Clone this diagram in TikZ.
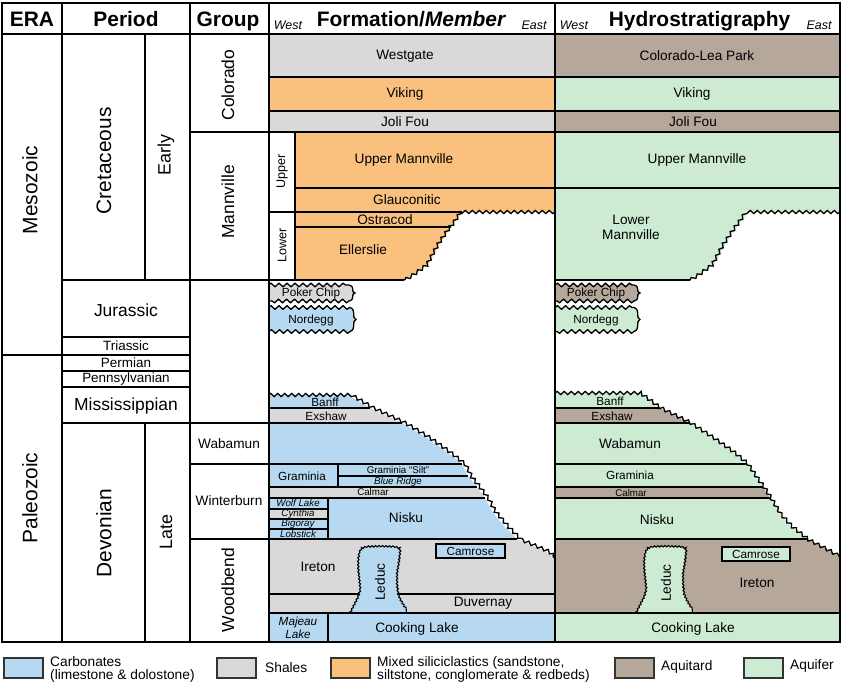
\documentclass[tikz,border=0pt]{standalone}
\usepackage{fontspec}
\setmainfont{Liberation Sans}
\usetikzlibrary{decorations.pathmorphing}
\definecolor{carb}{RGB}{182,217,241}
\definecolor{shale}{RGB}{217,217,217}
\definecolor{silic}{RGB}{250,192,126}
\definecolor{aqt}{RGB}{181,167,153}
\definecolor{aqf}{RGB}{205,235,211}
\newcommand\fs[2]{\fontsize{#1}{#2}\selectfont}
\tikzset{
  lbl/.style={inner sep=0pt, font=\fs{13.7}{15}},
  sml/.style={inner sep=0pt, font=\fs{11.8}{13}},
  updn/.style={inner sep=0pt, font=\fs{12.6}{14}},
  smlit/.style={inner sep=0pt, font=\fs{11.8}{13}\itshape},
  tny/.style={inner sep=0pt, font=\fs{9.8}{11}},
  tnyit/.style={inner sep=0pt, font=\fs{9.8}{11}\itshape},
  hdr/.style={inner sep=0pt, anchor=base, font=\fs{21}{23}\bfseries},
  dirlbl/.style={inner sep=0pt, anchor=base, font=\fs{12.5}{14}\itshape},
  big/.style={inner sep=0pt, font=\fs{21}{23}},
  mid/.style={inner sep=0pt, font=\fs{17.5}{19}},
  ep/.style={inner sep=0pt, font=\fs{18}{20}},
  per/.style={inner sep=0pt, font=\fs{13.5}{15}},
  leg/.style={inner sep=0pt, anchor=west, align=left, font=\fs{13.8}{13.5}},
  ln/.style={line width=1.2bp},
  heavy/.style={line width=2.5bp},
  divider/.style={line width=2bp},
  wavy/.style={decorate, decoration={snake, segment length=7bp, amplitude=1.6bp}, line width=1.3bp},
  rough/.style={decorate, decoration={snake, segment length=3.5bp, amplitude=0.7bp}, line width=1.1bp},
  jur/.style={draw=black, line width=1.3bp},
  jurwave/.style={decoration={snake, segment length=8bp, amplitude=1.8bp}},
  legbox/.style={line width=1.2bp, draw=black!80},
}
\begin{document}
\begin{tikzpicture}[x=1bp,y=-1bp]
\useasboundingbox (0,0) rectangle (850,687);
\fill[white] (0,0) rectangle (850,687);

% ---------------- Formation column: Mesozoic ----------------
\fill[shale] (268.5,34) rectangle (555,77);
\fill[silic] (268.5,77) rectangle (555,111);
\fill[shale] (268.5,111) rectangle (555,132);
\fill[silic] (295,132) rectangle (555,212);
\fill[silic] (295,212) -- (462,212) -- (455,222) -- (451,227) -- (440,243) -- (429,263) -- (414,274) -- (404,280) -- (295,280) -- cycle;
\draw[ln] (268.5,77) -- (555,77);
\draw[ln] (268.5,111) -- (555,111);
\draw[ln] (268.5,132) -- (555,132);
\draw[ln] (295,188) -- (555,188);
\draw[ln] (268.5,212) -- (462,212);
\draw[ln] (295,227) -- (451,227);
\draw[ln] (268.5,280) -- (404,280);
\draw[ln] (295,132) -- (295,280);
\draw[wavy] (555,212) -- (462,212) -- (455,222) -- (451,227) -- (440,243) -- (429,263) -- (414,274) -- (404,280);

% Jurassic remnants (formation)
\path[jur, fill=shale] (268.5,285) decorate[jurwave]{-- (349,285)} .. controls (356,287) and (350,292) .. (355,293) .. controls (350,294) and (356,299) .. (349,301) decorate[jurwave]{-- (268.5,301)};
\path[jur, fill=carb] (268.5,307.5) decorate[jurwave]{-- (350,307.5)} .. controls (357,310) and (351,318) .. (356,319.5) .. controls (351,321) and (357,329) .. (350,331.5) decorate[jurwave]{-- (268.5,331.5)};

% ---------------- Formation column: Paleozoic ----------------
\fill[carb] (268.5,395) -- (348,395) -- (370,408) -- (268.5,408) -- cycle;
\fill[shale] (268.5,408) -- (370,408) -- (402,423) -- (268.5,423) -- cycle;
\fill[carb] (268.5,423) -- (402,423) -- (427,438) -- (447,452) -- (462,464) -- (468,476) -- (477,487) -- (268.5,487) -- cycle;
\fill[shale] (268.5,487) -- (477,487) -- (485,498) -- (268.5,498) -- cycle;
\fill[carb] (268.5,498) -- (485,498) -- (493,513) -- (505,527) -- (517,539) -- (268.5,539) -- cycle;
\fill[shale] (268.5,539) -- (517,539) -- (543,550) -- (555,558) -- (555,613) -- (268.5,613) -- cycle;
\fill[carb] (268.5,613) rectangle (555,642);
\fill[shale] (268.5,509) rectangle (328,519);
\draw[ln] (268.5,408) -- (370,408);
\draw[ln] (268.5,423) -- (402,423);
\draw[ln] (268.5,464) -- (462,464);
\draw[ln] (338,476) -- (468,476);
\draw[ln] (268.5,487) -- (477,487);
\draw[ln] (268.5,498) -- (485,498);
\draw[ln] (268.5,539) -- (517,539);
\draw[ln] (338,464) -- (338,487);
\draw[ln] (328,498) -- (328,539);
\draw[ln] (268.5,509) -- (328,509);
\draw[ln] (268.5,519) -- (328,519);
\draw[ln] (268.5,529) -- (328,529);
\draw[ln] (268.5,594) -- (555,594);
\draw[wavy] (268.5,395) -- (348,395) -- (370,408) -- (402,423) -- (427,438) -- (447,452) -- (462,464) -- (468,476) -- (477,487) -- (485,498) -- (493,513) -- (505,527) -- (517,539) -- (543,550) -- (555,558);
\path[fill=carb, draw=black, rough] (350,613) -- (352,609) -- (355,603) -- (358,597) -- (360,590) -- (359,580) -- (358,570) -- (358,560) -- (359,553) -- (361,549.5) -- (366,548) -- (380,547.5) -- (394,548) -- (399,549.5) -- (400,554) -- (399,563) -- (397,575) -- (397,587) -- (398,597) -- (401,604) -- (404,609) -- (407,613);
\draw[ln] (268.5,613) -- (555,613);
\draw[ln] (328,613) -- (328,642);
\draw[ln, fill=carb] (436,544) rectangle (505,558);

% ---------------- Hydro column: Mesozoic ----------------
\fill[aqt] (555,34) rectangle (840,77);
\fill[aqf] (555,77) rectangle (840,111);
\fill[aqt] (555,111) rectangle (840,132);
\fill[aqf] (555,132) rectangle (840,212);
\fill[aqf] (555,212) -- (748,212) -- (741,222) -- (737,227) -- (726,243) -- (715,263) -- (700,274) -- (690,280) -- (555,280) -- cycle;
\draw[ln] (555,77) -- (840,77);
\draw[ln] (555,111) -- (840,111);
\draw[ln] (555,132) -- (840,132);
\draw[ln] (555,188) -- (840,188);
\draw[ln] (555,280) -- (690,280);
\draw[wavy] (840,212) -- (748,212) -- (741,222) -- (737,227) -- (726,243) -- (715,263) -- (700,274) -- (690,280);
\path[jur, fill=aqt] (555,285) decorate[jurwave]{-- (634,285)} .. controls (641,287) and (635,292) .. (640,293) .. controls (635,294) and (641,299) .. (634,301) decorate[jurwave]{-- (555,301)};
\path[jur, fill=aqf] (555,307.5) decorate[jurwave]{-- (634,307.5)} .. controls (641,310) and (635,318) .. (640,319.5) .. controls (635,321) and (641,329) .. (634,331.5) decorate[jurwave]{-- (555,331.5)};

% ---------------- Hydro column: Paleozoic ----------------
\fill[aqf] (555,393) -- (640,393) -- (660,408) -- (555,408) -- cycle;
\fill[aqt] (555,408) -- (660,408) -- (690,423) -- (555,423) -- cycle;
\fill[aqf] (555,423) -- (690,423) -- (713,438) -- (733,452) -- (747,464) -- (755,476) -- (763,487) -- (555,487) -- cycle;
\fill[aqt] (555,487) -- (763,487) -- (770,498) -- (555,498) -- cycle;
\fill[aqf] (555,498) -- (770,498) -- (779,513) -- (792,527) -- (807,539) -- (555,539) -- cycle;
\fill[aqt] (555,539) -- (807,539) -- (830,551) -- (840,557) -- (840,613) -- (555,613) -- cycle;
\fill[aqf] (555,613) rectangle (840,642);
\draw[ln] (555,408) -- (660,408);
\draw[ln] (555,423) -- (690,423);
\draw[ln] (555,464) -- (747,464);
\draw[ln] (555,487) -- (763,487);
\draw[ln] (555,498) -- (770,498);
\draw[ln] (555,539) -- (807,539);
\draw[wavy] (555,393) -- (640,393) -- (660,408) -- (690,423) -- (713,438) -- (733,452) -- (747,464) -- (755,476) -- (763,487) -- (770,498) -- (779,513) -- (792,527) -- (807,539) -- (830,551) -- (840,557);
\begin{scope}[shift={(286,0)}]
\path[fill=aqf, draw=black, rough] (350,613) -- (352,609) -- (355,603) -- (358,597) -- (360,590) -- (359,580) -- (358,570) -- (358,560) -- (359,553) -- (361,549.5) -- (366,548) -- (380,547.5) -- (394,548) -- (399,549.5) -- (400,554) -- (399,563) -- (397,575) -- (397,587) -- (398,597) -- (401,604) -- (404,609) -- (407,613);
\end{scope}
\draw[ln] (555,613) -- (840,613);
\draw[ln, fill=aqf] (722,547) rectangle (790,561);

% ---------------- Left columns grid ----------------
\draw[ln] (2,34) -- (840,34);
\draw[ln] (62,3) -- (62,642);
\draw[ln] (190,3) -- (190,642);
\draw[ln] (145,34) -- (145,280);
\draw[ln] (145,423) -- (145,642);
\draw[ln] (2,355) -- (62,355);
\draw[ln] (62,280) -- (268.5,280);
\draw[ln] (62,337) -- (190,337);
\draw[ln] (62,355) -- (190,355);
\draw[ln] (62,371) -- (190,371);
\draw[ln] (62,387) -- (190,387);
\draw[ln] (62,423) -- (268.5,423);
\draw[ln] (190,132) -- (268.5,132);
\draw[ln] (190,464) -- (268.5,464);
\draw[ln] (190,539) -- (268.5,539);
\draw[divider] (268.5,3) -- (268.5,642);
\draw[divider] (555,3) -- (555,642);
\draw[heavy] (2,3) rectangle (840,642);

% ---------------- Header ----------------
\node[hdr] (hEra) at (32,26.5) {ERA};
\node[hdr] (hPer) at (126,26.5) {Period};
\node[hdr] (hGrp) at (228,26.5) {Group};
\node[hdr] (hFor) at (411.5,26.5) {Formation/\textit{Member}};
\node[hdr] (hHyd) at (699.5,26.5) {Hydrostratigraphy};
\node[dirlbl] (fW) at (288,30) {West};
\node[dirlbl] (fE) at (534,30) {East};
\node[dirlbl] (hW) at (574,30) {West};
\node[dirlbl] (hE) at (819,30) {East};

% ---------------- Era / Period / Group labels ----------------
\node[big, rotate=90] (meso) at (30,190) {Mesozoic};
\node[big, rotate=90] (paleo) at (30,498) {Paleozoic};
\node[big, rotate=90] (cret) at (104,161) {Cretaceous};
\node[ep, rotate=90] (early) at (166,155) {Early};
\node[mid] (jurl) at (126,310) {Jurassic};
\node[per] (tri) at (126,346) {Triassic};
\node[per] (perm) at (126,363) {Permian};
\node[per] (penn) at (126,379) {Pennsylvanian};
\node[mid] (miss) at (126,406) {Mississippian};
\node[big, rotate=90] (dev) at (104,533) {Devonian};
\node[ep, rotate=90] (late) at (166,532) {Late};
\node[mid, rotate=90] (gCol) at (228,85) {Colorado};
\node[mid, rotate=90] (gMan) at (228,202) {Mannville};
\node[lbl] (gWab) at (229,444) {Wabamun};
\node[lbl] (gWin) at (229,501) {Winterburn};
\node[mid, rotate=90] (gWoo) at (228,590) {Woodbend};

% ---------------- Formation labels ----------------
\node[lbl] (fWestgate) at (405,56) {Westgate};
\node[lbl] (fViking) at (405,94) {Viking};
\node[lbl] (fJoli) at (405,121.5) {Joli Fou};
\node[lbl] (fUM) at (404,159.5) {Upper Mannville};
\node[lbl] (fGlau) at (407,199.5) {Glauconitic};
\node[lbl] (fOst) at (385,219.5) {Ostracod};
\node[lbl] (fEll) at (363,250) {Ellerslie};
\node[updn, rotate=90] (fUp) at (282,171) {Upper};
\node[updn, rotate=90] (fLo) at (282,245) {Lower};
\node[sml] (fPoker) at (311,293) {Poker Chip};
\node[sml] (fNord) at (311,320.5) {Nordegg};
\node[sml] (fBanff) at (325,402) {Banff};
\node[sml] (fExshaw) at (326,416) {Exshaw};
\node[sml] (fGram) at (302,476) {Graminia};
\node[tny] (fGSilt) at (398,470) {Graminia “Silt”};
\node[tnyit] (fBlue) at (398,481.5) {Blue Ridge};
\node[tny] (fCalmar) at (373,492.5) {Calmar};
\node[tnyit] (fWolf) at (298,503.5) {Wolf Lake};
\node[tnyit] (fCyn) at (298,514) {Cynthia};
\node[tnyit] (fBig) at (298,524) {Bigoray};
\node[tnyit] (fLob) at (298,534) {Lobstick};
\node[lbl] (fNisku) at (406,517.5) {Nisku};
\node[sml] (fCam) at (470.5,551) {Camrose};
\node[lbl] (fIreton) at (318,567) {Ireton};
\node[lbl, rotate=90] (fLeduc) at (380,582) {Leduc};
\node[lbl] (fDuv) at (483,603.5) {Duvernay};
\node[smlit, align=center] (fMaj) at (298,628) {Majeau\\Lake};
\node[lbl] (fCook) at (417,629) {Cooking Lake};

% ---------------- Hydro labels ----------------
\node[lbl] (hCLP) at (697,55.5) {Colorado-Lea Park};
\node[lbl] (hViking) at (692,94) {Viking};
\node[lbl] (hJoli) at (693,121.5) {Joli Fou};
\node[lbl] (hUM) at (697,159.5) {Upper Mannville};
\node[lbl, align=center] (hLM) at (631,227.5) {Lower\\Mannville};
\node[sml] (hPoker) at (596,293) {Poker Chip};
\node[sml] (hNord) at (596,320.5) {Nordegg};
\node[sml] (hBanff) at (610,401) {Banff};
\node[sml] (hExshaw) at (612,416) {Exshaw};
\node[lbl] (hWab) at (630,444) {Wabamun};
\node[sml] (hGram) at (630,475.5) {Graminia};
\node[tny] (hCalmar) at (631,493) {Calmar};
\node[lbl] (hNisku) at (657,520) {Nisku};
\node[sml] (hCam) at (756,554) {Camrose};
\node[lbl, rotate=90] (hLeduc) at (666,583) {Leduc};
\node[lbl] (hIreton) at (757,583) {Ireton};
\node[lbl] (hCook) at (693,628.5) {Cooking Lake};

% ---------------- Legend ----------------
\draw[legbox, fill=carb] (4,658) rectangle (43,678);
\node[leg] (lCarb) at (50,669.5) {Carbonates\\(limestone \& dolostone)};
\draw[legbox, fill=shale] (217,658) rectangle (256,678);
\node[leg] (lShale) at (265,667.5) {Shales};
\draw[legbox, fill=silic] (331,658) rectangle (370,678);
\node[leg] (lSilic) at (377,669.5) {Mixed siliciclastics (sandstone,\\siltstone, conglomerate \& redbeds)};
\draw[legbox, fill=aqt] (615,658) rectangle (654,678);
\node[leg] (lAqt) at (661,667) {Aquitard};
\draw[legbox, fill=aqf] (744,658) rectangle (783,678);
\node[leg] (lAqf) at (790,666) {Aquifer};
\end{tikzpicture}
\end{document}
